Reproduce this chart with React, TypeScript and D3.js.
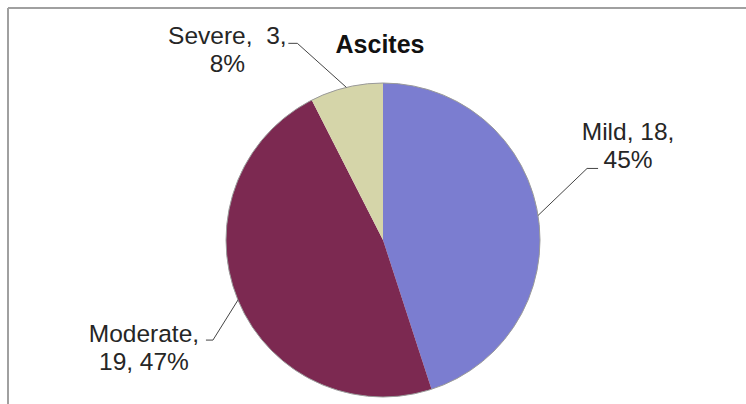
import React from "react";
import * as d3 from "d3";

// Ascites severity counts
const categories = ["Mild", "Moderate", "Severe"];
const counts = [18, 19, 3];
const percents = ["45%", "47%", "8%"];
const sliceColors = ["#7b7dd0", "#7c2951", "#d5d5a9"];
const chartTitle = "Ascites";

const W = 746;
const H = 404;
const cx = 383;
const cy = 240;
const R = 157;
const FONT = "'Liberation Sans', Arial, sans-serif";

// Label layout: elbow offset from the slice's outer midpoint, the short
// horizontal run, and where the two label lines sit relative to the elbow.
const labelLayout = [
  { elbow: [49, -47], run: 11, text: [41, -28], lines: [`${categories[0]}, ${counts[0]},`, percents[0]] },
  { elbow: [-25, 40], run: -7, text: [-69, 2], lines: [`${categories[1]},`, `${counts[1]}, ${percents[1]}`] },
  { elbow: [-49, -44], run: -9, text: [-70, 1], lines: [`${categories[2]},  ${counts[2]},`, percents[2]] },
];

export default function App() {
  const pie = d3
    .pie<number>()
    .sort(null)
    .value((d) => d)(counts);
  const arc = d3.arc<d3.PieArcDatum<number>>().innerRadius(0).outerRadius(R);

  return (
    <svg
      width={W}
      height={H}
      style={{ position: "absolute", left: 0, top: 0, background: "#fff" }}
    >
      {/* chart frame */}
      <line x1={8} y1={8} x2={W} y2={8} stroke="#a0a0a0" strokeWidth={2} />
      <line x1={8} y1={8} x2={8} y2={H} stroke="#a0a0a0" strokeWidth={2} />

      <text
        x={380}
        y={53}
        textAnchor="middle"
        fontFamily={FONT}
        fontWeight="bold"
        fontSize={25}
        fill="#111"
      >
        {chartTitle}
      </text>

      <g transform={`translate(${cx},${cy})`}>
        {pie.map((p, i) => (
          <path key={categories[i]} d={arc(p) || ""} fill={sliceColors[i]} />
        ))}
        <circle r={R} fill="none" stroke="#9a9a9a" strokeWidth={1} />
        {pie.map((p, i) => {
          const mid = (p.startAngle + p.endAngle) / 2;
          const ax = R * Math.sin(mid);
          const ay = -R * Math.cos(mid);
          const L = labelLayout[i];
          const ex = ax + L.elbow[0];
          const ey = ay + L.elbow[1];
          const tx = ex + L.text[0];
          const ty = ey + L.text[1];
          return (
            <g key={"lbl" + categories[i]}>
              <polyline
                points={`${ax},${ay} ${ex},${ey} ${ex + L.run},${ey}`}
                fill="none"
                stroke="#444"
                strokeWidth={1}
              />
              <text
                x={tx}
                y={ty}
                textAnchor="middle"
                fontFamily={FONT}
                fontSize={24.5}
                fill="#262626"
              >
                {L.lines.map((s, k) => (
                  <tspan key={k} x={tx} dy={k === 0 ? 0 : 27.5} style={{ whiteSpace: "pre" }}>
                    {s}
                  </tspan>
                ))}
              </text>
            </g>
          );
        })}
      </g>
    </svg>
  );
}
